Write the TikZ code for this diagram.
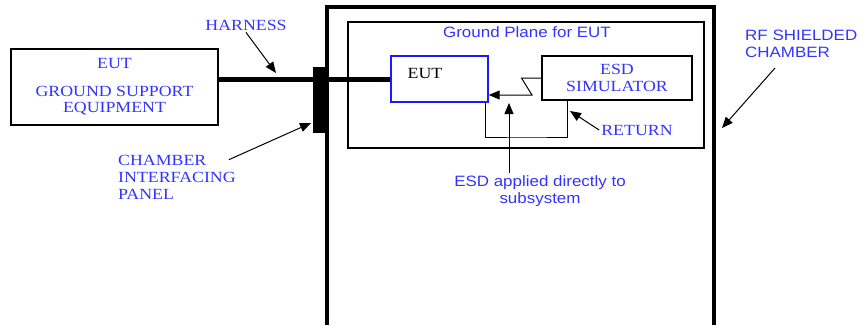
\documentclass[tikz,border=0pt]{standalone}
\usepackage{fontspec}
\usetikzlibrary{arrows.meta}
\newfontfamily\serfont[FakeStretch=1.15]{Liberation Serif}
\newfontfamily\sanfont[FakeStretch=1.13]{Liberation Sans}
\definecolor{labblue}{HTML}{3333FF}
\definecolor{eutedge}{HTML}{1A1AFF}

\begin{document}
\begin{tikzpicture}[x=1pt, y=-1pt,
  unit/.style={rectangle, draw=black, line width=1.1pt, inner sep=0pt,
               align=center, text=labblue, font=\serfont\fontsize{15.5}{16.5}\selectfont},
  serlab/.style={text=labblue, inner sep=2pt, align=left,
                 font=\serfont\fontsize{15.5}{17}\selectfont},
  sanlab/.style={text=labblue, inner sep=2pt, align=left,
                 font=\sanfont\fontsize{15}{17}\selectfont},
  arr/.style={draw=black, line width=1pt, -{Triangle[length=11pt, width=9pt]}},
  ln/.style={draw=black, line width=1pt},
]
\useasboundingbox (0,0) rectangle (861,325);
% RF shielded chamber, open at the bottom
\coordinate (chbl) at (327,325);
\coordinate (chtr) at (714,7);
\draw[line width=4pt] (chbl) |- (chtr) -- (chtr |- chbl);
% ground plane inside the chamber
\node[rectangle, draw=black, line width=2pt, minimum width=356pt, minimum height=126pt,
      anchor=north west] (gplane) at (347,21) {};
\node[sanlab, align=center] (gptitle) at (527,32) {Ground Plane for EUT};
% equipment
\node[unit, minimum width=207pt, minimum height=76pt] (gse) at (114.5,87)
  {EUT\\[11pt]GROUND SUPPORT\\EQUIPMENT};
\node[rectangle, draw=eutedge, line width=1.4pt, minimum width=97pt, minimum height=46pt,
      inner sep=0pt] (eut) at (439.5,79) {};
\node[font=\serfont\fontsize{15.5}{17}\selectfont, inner sep=0pt] (eutlbl) at (425,73) {EUT};
\node[unit, minimum width=150pt, minimum height=44pt] (sim) at (617,78) {ESD\\SIMULATOR};
\node[rectangle, fill=black, minimum width=12pt, minimum height=66pt, inner sep=0pt]
  (panel) at (319,100) {};
% harness through the interfacing panel
\draw[line width=5pt] (gse.east |- eut.west) -- (eut.west);
% discharge path and return
\coordinate (zap) at (532,95);
\draw[arr] (sim.west) -- ++(-20,0) -- (zap) -- (zap -| eut.east);
\coordinate (retb) at (527,137);
\draw[ln] ([xshift=-3pt]eut.south east) |- (retb) -| ([xshift=26pt]sim.south west);
% callouts
\node[serlab] (harlbl) at (246,25) {HARNESS};
\coordinate (hartip) at (276,73);
\draw[arr] (harlbl.south) -- (hartip);
\node[serlab, anchor=west] (ciplbl) at (116,177) {CHAMBER\\INTERFACING\\PANEL};
\coordinate (ciptip) at (311,123);
\draw[arr] ([shift={(-9,7)}]ciplbl.north east) -- (ciptip);
\node[serlab] (retlbl) at (637,130) {RETURN};
\coordinate (rettip) at (570,111);
\draw[arr] (retlbl.west) -- (rettip);
\node[sanlab, align=center] (esdlbl) at (540,191) {ESD applied directly to\\subsystem};
\coordinate (esdtip) at (509,103);
\draw[arr] (esdlbl.north -| esdtip) -- (esdtip);
\node[sanlab, anchor=west] (rflbl) at (743,44) {RF SHIELDED\\CHAMBER};
\coordinate (rftip) at (722,128);
\draw[arr] ([shift={(32,8)}]rflbl.south west) -- (rftip);
\end{tikzpicture}
\end{document}
